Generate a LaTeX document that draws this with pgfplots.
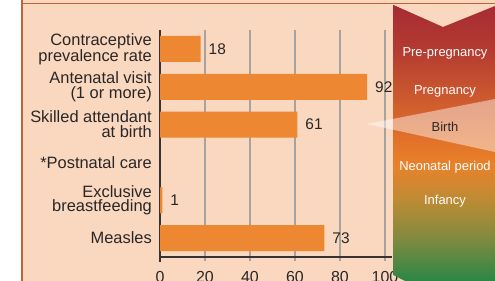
\documentclass[border=0pt]{standalone}
\usepackage{pgfplots}
\pgfplotsset{compat=1.18}
\usepackage{fontspec}
\setmainfont{Liberation Sans}
\definecolor{peach}{HTML}{F9D8BF}
\definecolor{barc}{HTML}{EE8731}
\definecolor{framec}{HTML}{C0643C}
\definecolor{gridc}{HTML}{A8A29E}
\definecolor{axc}{HTML}{3A3232}
\definecolor{txt}{HTML}{2A2626}
\definecolor{g0}{HTML}{2A8746}
\definecolor{g1}{HTML}{7E8A40}
\definecolor{g2}{HTML}{BD8B35}
\definecolor{g3}{HTML}{E8822A}
\definecolor{g4}{HTML}{E2722A}
\definecolor{g5}{HTML}{C9552F}
\definecolor{g6}{HTML}{B43B31}
\definecolor{g7}{HTML}{A62B34}
\pgfdeclareverticalshading{life}{100bp}{color(0bp)=(g0); color(25bp)=(g0); color(32.4bp)=(g1); color(39.7bp)=(g2); color(46bp)=(g3); color(50.5bp)=(g4); color(59.6bp)=(g5); color(66.8bp)=(g6); color(75bp)=(g7); color(100bp)=(g7)}
\begin{document}
\begin{tikzpicture}
\path[use as bounding box] (0,0) rectangle (495bp,-281bp);
\clip (0,0) rectangle (495bp,-281bp);
\begin{scope}[x=1bp,y=-1bp]
\fill[white] (0,0) rectangle (495,281);
\fill[peach] (21,0) rectangle (495,281);
\draw[framec, line width=1.5bp] (21,3.5) -- (495,3.5);
\draw[framec, line width=2bp] (21.5,0) -- (21.5,281);
\end{scope}
\begin{axis}[
  anchor=south west, at={(160bp,-257bp)},
  scale only axis, width=225bp, height=227bp,
  xmin=0, xmax=100, ymin=-0.5, ymax=5.5,
  xbar, bar width=26bp, clip=false,
  /pgf/number format/assume math mode=true,
  axis lines*=left,
  axis line style={axc, line width=1.3bp},
  x axis line style={shorten >=-7bp},
  y axis line style={shorten <=-5bp},
  xtick={0,20,40,60,80,100},
  xmajorgrids, grid style={gridc, line width=1.1bp},
  tick align=outside, major tick length=4bp,
  xtick style={gridc, line width=1.1bp},
  ytick={0,1,2,3,4,5},
  ytick style={draw=none},
  yticklabels={Measles, {Exclusive\\breastfeeding}, {*Postnatal care}, {Skilled attendant\\at birth}, {Antenatal visit\\(1 or more)}, {Contraceptive\\prevalence rate}},
  yticklabel style={font=\fontsize{16.5}{15}\selectfont, align=right, inner sep=0pt, xshift=-4bp, text=txt},
  xticklabel style={font=\fontsize{16}{16}\selectfont, anchor=base, yshift=-21bp, text=txt},
  nodes near coords,
  point meta=x,
  nodes near coords style={font=\fontsize{15.5}{15}\selectfont, anchor=west, inner sep=0pt, xshift=8bp, text=txt},
]
\addplot[fill=barc, draw=none] coordinates {(73,0) (1,1) (61,3) (92,4) (18,5)};
\end{axis}
\begin{scope}[x=1bp,y=-1bp]
\shade[shading=life] (393.5,5) -- (443,27) -- (495,6) -- (495,281) -- (405,281) -- (393.5,275) -- cycle;
\fill[white, opacity=0.45] (367,124) -- (495,99) -- (495,152) -- cycle;
\begin{scope}[every node/.style={font=\fontsize{13}{15}\selectfont, anchor=base, inner sep=0pt}]
\node[white] at (445,56) {Pre-pregnancy};
\node[white] at (445,94) {Pregnancy};
\node[txt] at (445,131) {Birth};
\node[white] at (445,170) {Neonatal period};
\node[white] at (445,204) {Infancy};
\end{scope}
\end{scope}
\end{tikzpicture}
\end{document}
